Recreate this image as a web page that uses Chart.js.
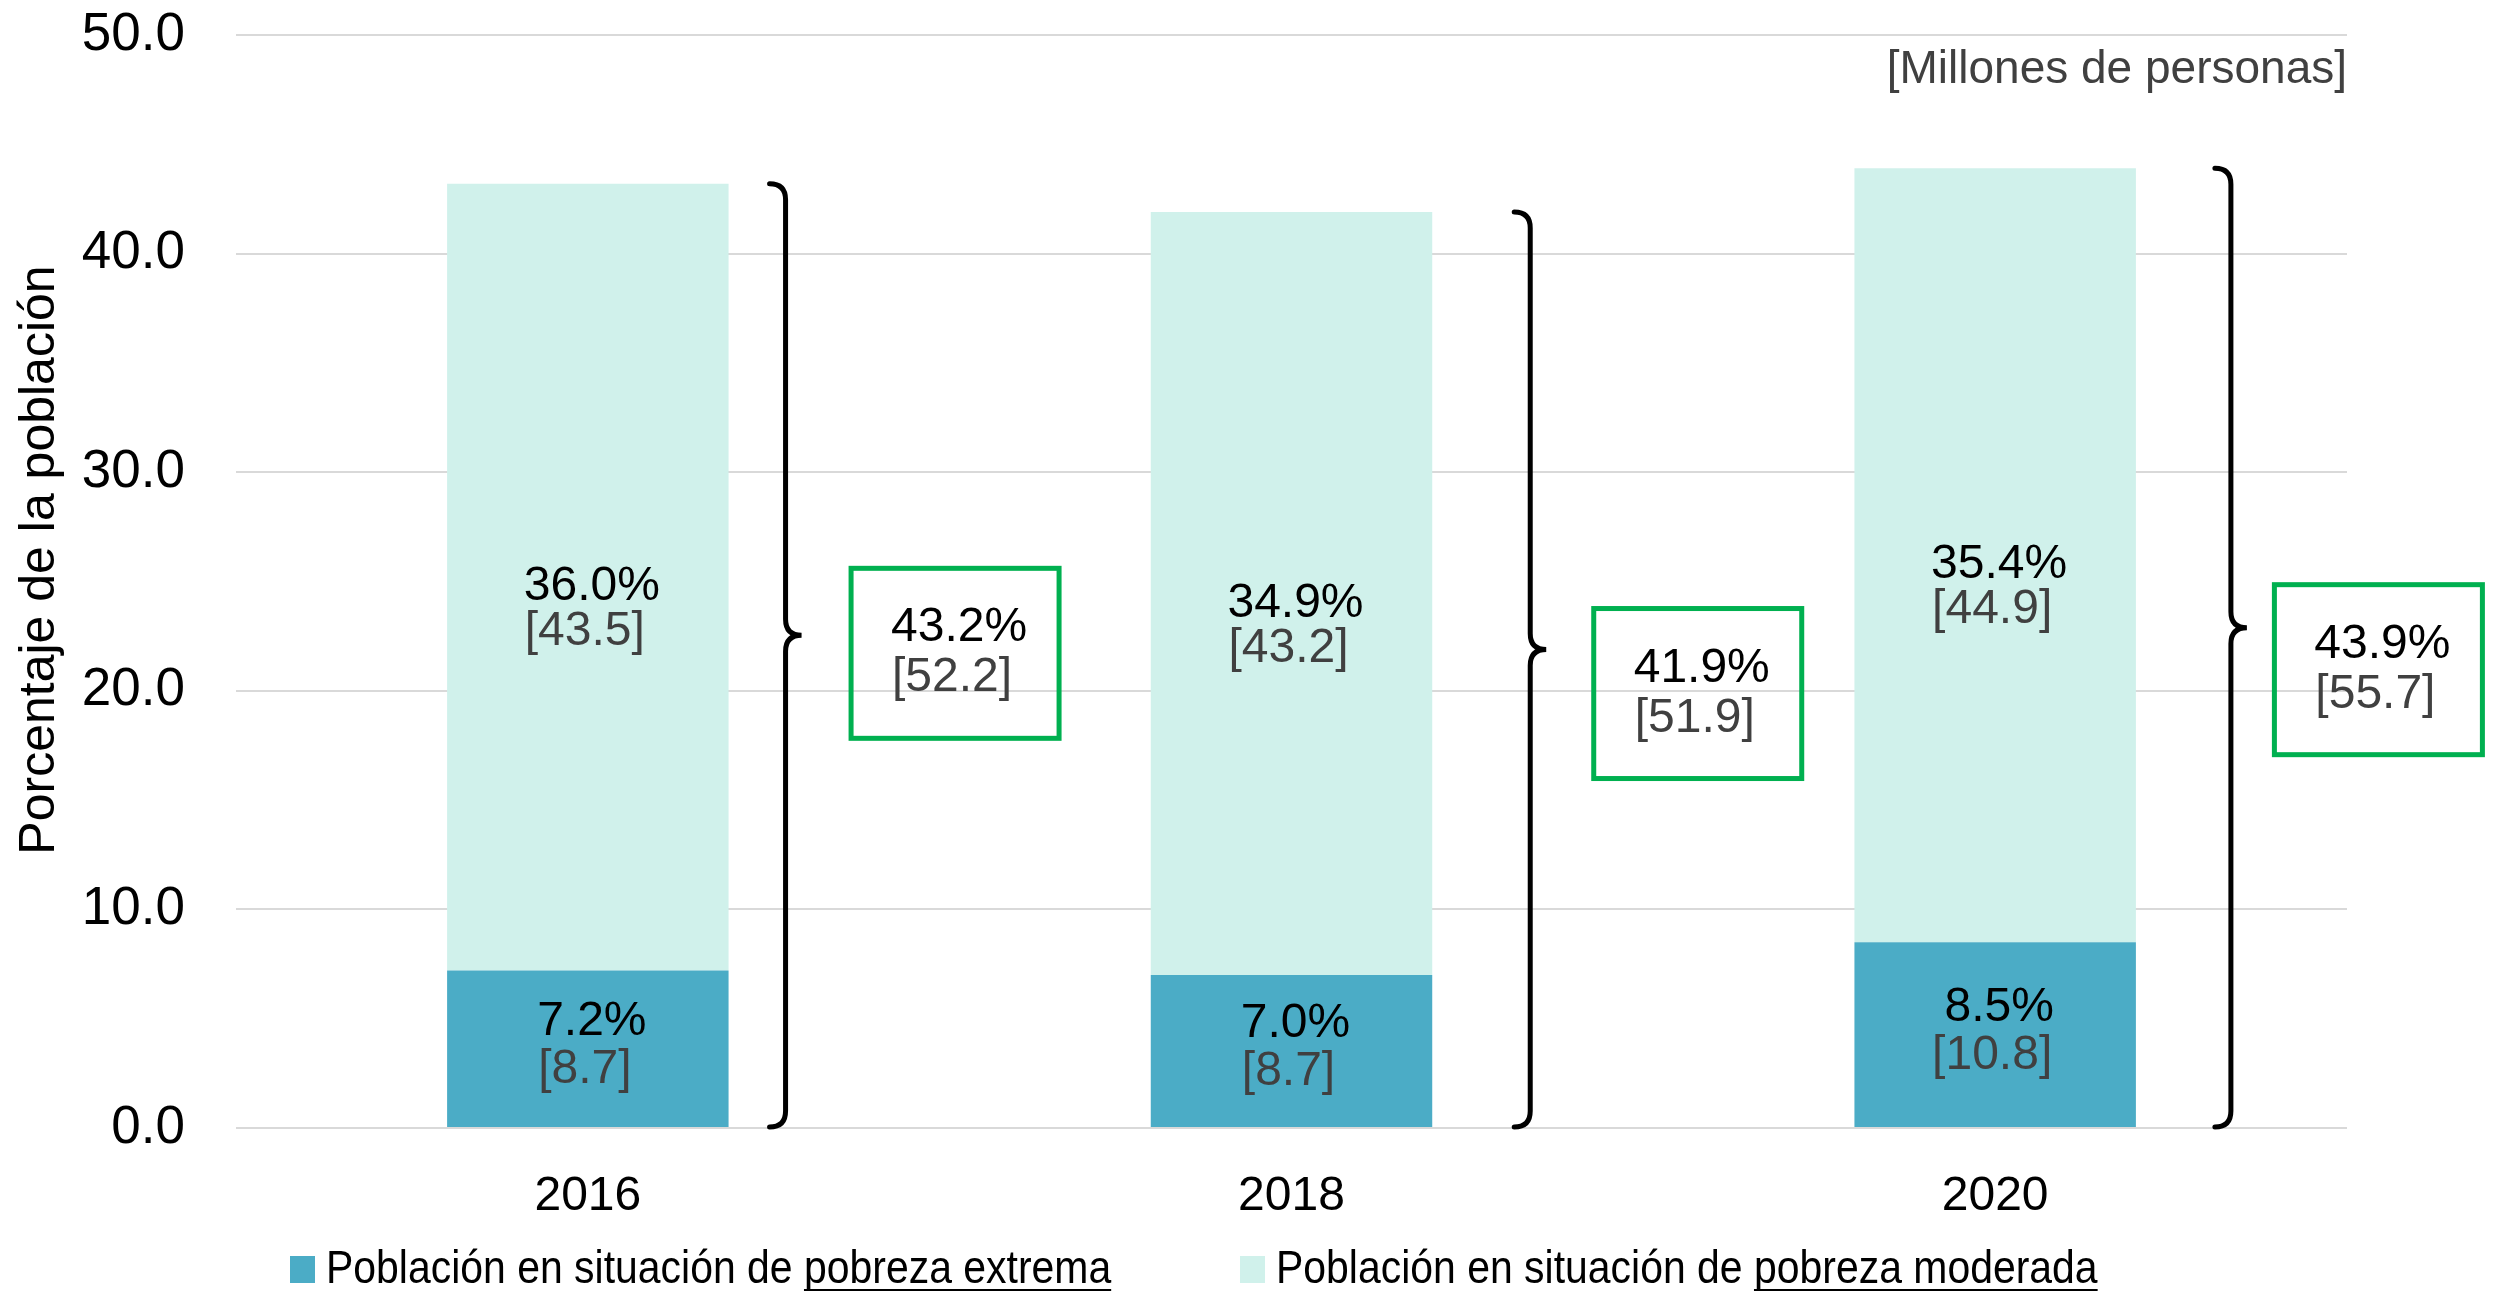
<!DOCTYPE html>
<html>
<head>
<meta charset="utf-8">
<script src="https://cdn.jsdelivr.net/npm/chart.js@4.4.1/dist/chart.umd.min.js"></script>
<style>
  html, body { margin: 0; padding: 0; background: #fff; }
  #wrap { width: 2495px; height: 1291px; position: relative; }
</style>
</head>
<body>
<div id="wrap"><canvas id="pobreza"></canvas></div>
<script>
// datos (porcentaje y millones de personas)
var years = ['2016', '2018', '2020'];
var extremaPct = [7.2, 7.0, 8.5];
var moderadaPct = [36.0, 34.9, 35.4];
var extremaMill = [8.7, 8.7, 10.8];
var moderadaMill = [43.5, 43.2, 44.9];
var totalPct = [43.2, 41.9, 43.9];
var totalMill = [52.2, 51.9, 55.7];
var yTicks = [0, 10, 20, 30, 40, 50];

var FONT = '"Liberation Sans", Arial, sans-serif';
var DARK = '#4BACC6';
var LIGHT = '#D0F1EB';
var GREY = '#404040';

// little layout tweaks for braces / green boxes (px)
var braceGap = [57, 98, 95];
var boxGap = [63, 61, 41];
var boxDy = [-2, 24, 22];

function twoLines(ctx, x, y, a, b, gap) {
  ctx.font = '48px ' + FONT;
  ctx.textAlign = 'center';
  ctx.textBaseline = 'alphabetic';
  ctx.fillStyle = '#000';
  ctx.fillText(a, x + 4, y);
  ctx.fillStyle = GREY;
  ctx.fillText(b, x - 3, y + gap);
}

function brace(ctx, bx, y0, y1, ym) {
  var r = 16;
  ctx.beginPath();
  ctx.moveTo(bx - r, y0);
  ctx.quadraticCurveTo(bx, y0, bx, y0 + r);
  ctx.lineTo(bx, ym - r);
  ctx.quadraticCurveTo(bx, ym, bx + r, ym);
  ctx.quadraticCurveTo(bx, ym, bx, ym + r);
  ctx.lineTo(bx, y1 - r);
  ctx.quadraticCurveTo(bx, y1, bx - r, y1);
  ctx.lineWidth = 5;
  ctx.strokeStyle = '#000';
  ctx.lineCap = 'round';
  ctx.stroke();
}

function legendItem(ctx, x, y, color, plain, under) {
  ctx.fillStyle = color;
  ctx.fillRect(x, y - 27, 25, 27);
  ctx.save();
  ctx.translate(x + 36, y);
  ctx.scale(0.89, 1);
  ctx.font = '46px ' + FONT;
  ctx.textAlign = 'left';
  ctx.textBaseline = 'alphabetic';
  ctx.fillStyle = '#000';
  ctx.fillText(plain, 0, 0);
  var w1 = ctx.measureText(plain).width;
  ctx.fillText(under, w1, 0);
  var w2 = ctx.measureText(under).width;
  ctx.fillRect(w1, 6, w2, 3);
  ctx.restore();
}

var extras = {
  id: 'extras',
  afterDatasetsDraw: function(chart) {
    var ctx = chart.ctx;
    var lo = chart.getDatasetMeta(0).data;
    var hi = chart.getDatasetMeta(1).data;
    ctx.save();
    for (var i = 0; i < years.length; i++) {
      var d = lo[i], m = hi[i];
      // etiquetas dentro de las barras
      var midLo = (d.y + d.base) / 2;
      twoLines(ctx, d.x, midLo - 14, extremaPct[i].toFixed(1) + '%', '[' + extremaMill[i].toFixed(1) + ']', 48);
      var midHi = (m.y + m.base) / 2;
      twoLines(ctx, m.x, midHi + 23, moderadaPct[i].toFixed(1) + '%', '[' + moderadaMill[i].toFixed(1) + ']', 45);

      // llave y recuadro del total
      var bx = m.x + m.width / 2 + braceGap[i];
      var y0 = m.y, y1 = d.base;
      var mid = (y0 + y1) / 2;
      brace(ctx, bx, y0, y1, mid - 20);

      var bw = 213, bh = 175;
      var left = bx + boxGap[i];
      var cy = mid + boxDy[i];
      ctx.lineWidth = 5;
      ctx.strokeStyle = '#00B050';
      ctx.strokeRect(left + 2.5, cy - bh / 2 + 2.5, bw - 5, bh - 5);
      twoLines(ctx, left + bw / 2, cy - 12, totalPct[i].toFixed(1) + '%', '[' + totalMill[i].toFixed(1) + ']', 50);
    }
    ctx.restore();
  },
  afterDraw: function(chart) {
    var ctx = chart.ctx;
    var area = chart.chartArea;
    ctx.save();
    // unidad
    ctx.font = '46px ' + FONT;
    ctx.fillStyle = GREY;
    ctx.textAlign = 'right';
    ctx.textBaseline = 'alphabetic';
    ctx.fillText('[Millones de personas]', area.right, 83);

    // titulo eje y
    ctx.translate(40, 560);
    ctx.rotate(-Math.PI / 2);
    ctx.font = '50px ' + FONT;
    ctx.fillStyle = '#000';
    ctx.textAlign = 'center';
    ctx.textBaseline = 'middle';
    ctx.fillText('Porcentaje de la población', 0, 0);
    ctx.restore();

    // leyenda
    ctx.save();
    legendItem(ctx, 290, 1283, DARK, 'Población en situación de ', 'pobreza extrema');
    legendItem(ctx, 1240, 1283, LIGHT, 'Población en situación de ', 'pobreza moderada');
    ctx.restore();
  }
};

var ctx = document.getElementById('pobreza');
var myChart = new Chart(ctx, {
  type: 'bar',
  data: {
    labels: years,
    datasets: [{
      label: 'Población en situación de pobreza extrema',
      data: extremaPct,
      backgroundColor: DARK,
      borderWidth: 0
    }, {
      label: 'Población en situación de pobreza moderada',
      data: moderadaPct,
      backgroundColor: LIGHT,
      borderWidth: 0
    }]
  },
  options: {
    responsive: true,
    maintainAspectRatio: false,
    animation: false,
    layout: { padding: { top: 35, right: 148, left: 0, bottom: 0 } },
    datasets: { bar: { categoryPercentage: 1, barPercentage: 0.4 } },
    plugins: {
      legend: { display: false },
      tooltip: { enabled: false }
    },
    scales: {
      x: {
        stacked: true,
        grid: { display: false },
        border: { display: false },
        ticks: { color: '#000', padding: 32, font: { family: FONT, size: 48 } },
        afterFit: function(s) {
          s.height = 163;
          s.paddingLeft = 0;
          s.paddingRight = 0;
        }
      },
      y: {
        stacked: true,
        min: yTicks[0],
        max: yTicks[yTicks.length - 1],
        afterBuildTicks: function(s) { s.ticks = yTicks.map(function(v) { return { value: v }; }); },
        ticks: {
          color: '#000',
          padding: 51,
          font: { family: FONT, size: 53 },
          callback: function(v) { return Number(v).toFixed(1); }
        },
        grid: { color: '#D9D9D9', lineWidth: 2, drawTicks: false },
        border: { display: false },
        afterFit: function(s) {
          s.width = 236;
          s.paddingTop = 0;
          s.paddingBottom = 0;
        }
      }
    }
  },
  plugins: [extras]
});
</script>
</body>
</html>
